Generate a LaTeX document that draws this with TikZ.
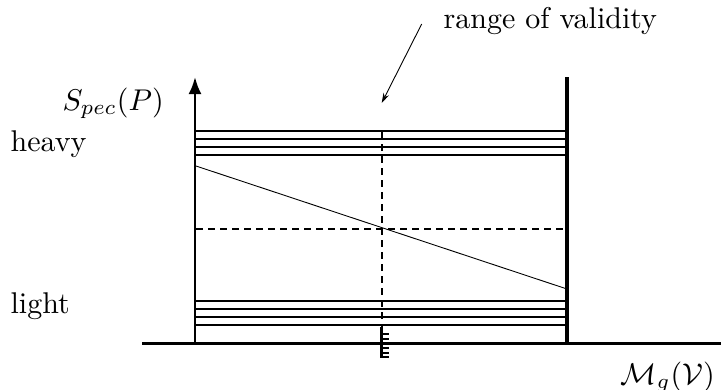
\documentclass[tikz,border=0pt]{standalone}
\usetikzlibrary{arrows.meta}
\begin{document}
\begin{tikzpicture}[x=1pt,y=-1pt,
  lbl/.style={scale=3,inner sep=0pt,anchor=base west},
  level/.style={line width=2pt},
  dash2/.style={line width=2pt,dash pattern=on 7pt off 5pt},
  stub/.style={line width=2pt}]
\useasboundingbox (0,0) rectangle (721,389);
% coordinates
\coordinate (ax0) at (142,343);
\coordinate (ax1) at (721,343);
\coordinate (yb) at (195,343);
\coordinate (yt) at (195,77);
\coordinate (rb) at (567,343);
\coordinate (rt) at (567,77);
% levels
\foreach \y [count=\i] in {131,139,147,155,301,309,317,325}{
  \coordinate (l\i) at (195,\y);
  \coordinate (r\i) at (567,\y);
  \draw[level] (l\i) -- (r\i);
}
% axes
\draw[line width=3pt] (ax0) -- (ax1);
\draw[line width=2.5pt,-{Latex[length=17pt,width=13pt]}] (yb) -- (yt);
\draw[line width=4pt] (rb) -- (rt);
% diagonal
\coordinate (d0) at (196,166);
\coordinate (d1) at (567,289);
\draw[line width=0.9pt] (d0) -- (d1);
% dashed
\coordinate (h0) at (196,229);
\coordinate (h1) at (567,229);
\draw[dash2] (h0) -- (h1);
\coordinate (v0) at (382,132);
\coordinate (v1) at (382,328);
\draw[dash2] (v0) -- (v1);
% tick cluster
\coordinate (t0) at (381.5,327);
\coordinate (t1) at (381.5,358);
\draw[line width=2.5pt] (t0) -- (t1);
\foreach \y [count=\i] in {334,338.5,348,352.5,357}{
  \coordinate (sa\i) at (381.5,\y);
  \coordinate (sb\i) at (389,\y);
  \draw[stub] (sa\i) -- (sb\i);
}
% labels
\node[lbl] (range) at (443,28) {range of validity};
\coordinate (a0) at (421.7,24);
\coordinate (a1) at (381.7,103);
\draw[line width=0.9pt,-{Stealth[length=10pt,width=6pt]}] (a0) -- (a1);
\node[lbl] (spec) at (62,110) {$S_{pec}(P)$};
\node[lbl] (heavy) at (10,151) {heavy};
\node[lbl] (light) at (10,313) {light};
\node[lbl] (mg) at (620,384) {$\mathcal{M}_g(\mathcal{V})$};
\end{tikzpicture}
\end{document}
